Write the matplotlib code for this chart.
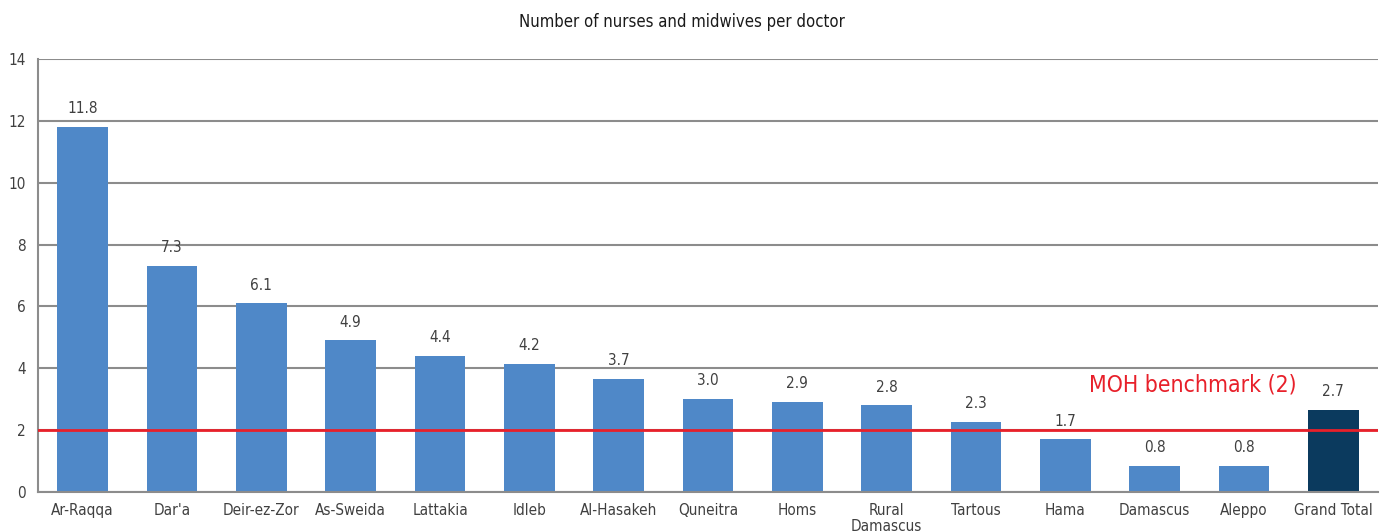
import matplotlib.pyplot as plt
from matplotlib import font_manager

names = {f.name for f in font_manager.fontManager.ttflist}
if 'DejaVu Sans Condensed' in names:
    plt.rcParams['font.family'] = ['DejaVu Sans Condensed', 'DejaVu Sans']
else:
    plt.rcParams['font.family'] = ['DejaVu Sans']
    plt.rcParams['font.stretch'] = 'condensed'
fs = 11

regions = ['Ar-Raqqa', "Dar'a", 'Deir-ez-Zor', 'As-Sweida', 'Lattakia', 'Idleb',
           'Al-Hasakeh', 'Quneitra', 'Homs', 'Rural\nDamascus', 'Tartous', 'Hama',
           'Damascus', 'Aleppo', 'Grand Total']
ratio = [11.8, 7.3, 6.1, 4.9, 4.4, 4.15, 3.66, 3.0, 2.9, 2.8, 2.26, 1.7, 0.84, 0.84, 2.66]
benchmark = 2

blue = '#4F88C8'
navy = '#0B3A5E'
red = '#E8202A'
grey = '#404040'

fig = plt.figure(figsize=(13.92, 5.32), dpi=100)
ax = fig.add_axes([38/1392, 40/532, 1340/1392, 433/532])

colors = [blue]*(len(regions)-1) + [navy]
x = range(len(regions))
bars = ax.bar(x, ratio, width=0.57, color=colors)
for b, v in zip(bars, ratio):
    ax.text(b.get_x()+b.get_width()/2, v+0.35, '{:.1f}'.format(v),
            ha='center', va='bottom', fontsize=fs, color=grey)

ax.axhline(benchmark, color=red, lw=2, zorder=3)
ax.text(13.59, 3.46, 'MOH benchmark (2)', color=red, fontsize=16.5,
        ha='right', va='center')

ax.set_xlim(-0.5, len(regions)-0.5)
ax.set_ylim(0, 14)
ax.set_yticks(range(0, 15, 2))
ax.yaxis.grid(True, color='#8C8C8C', lw=1.5)
ax.set_axisbelow(True)
ax.set_xticks(list(x))
ax.set_xticklabels(regions, fontsize=fs, color=grey, linespacing=1.05)
ax.tick_params(axis='both', length=0, labelsize=fs, labelcolor=grey)
ax.tick_params(axis='y', pad=9)
ax.tick_params(axis='x', pad=8)
for s in ['top', 'right']:
    ax.spines[s].set_visible(False)
for s in ['left', 'bottom']:
    ax.spines[s].set_color('#8C8C8C')
    ax.spines[s].set_linewidth(1.5)

fig.text(682/1392, 1-22/532, 'Number of nurses and midwives per doctor',
         ha='center', va='center', fontsize=12, color='#1A1A1A')

plt.savefig('out.png', dpi=100)
